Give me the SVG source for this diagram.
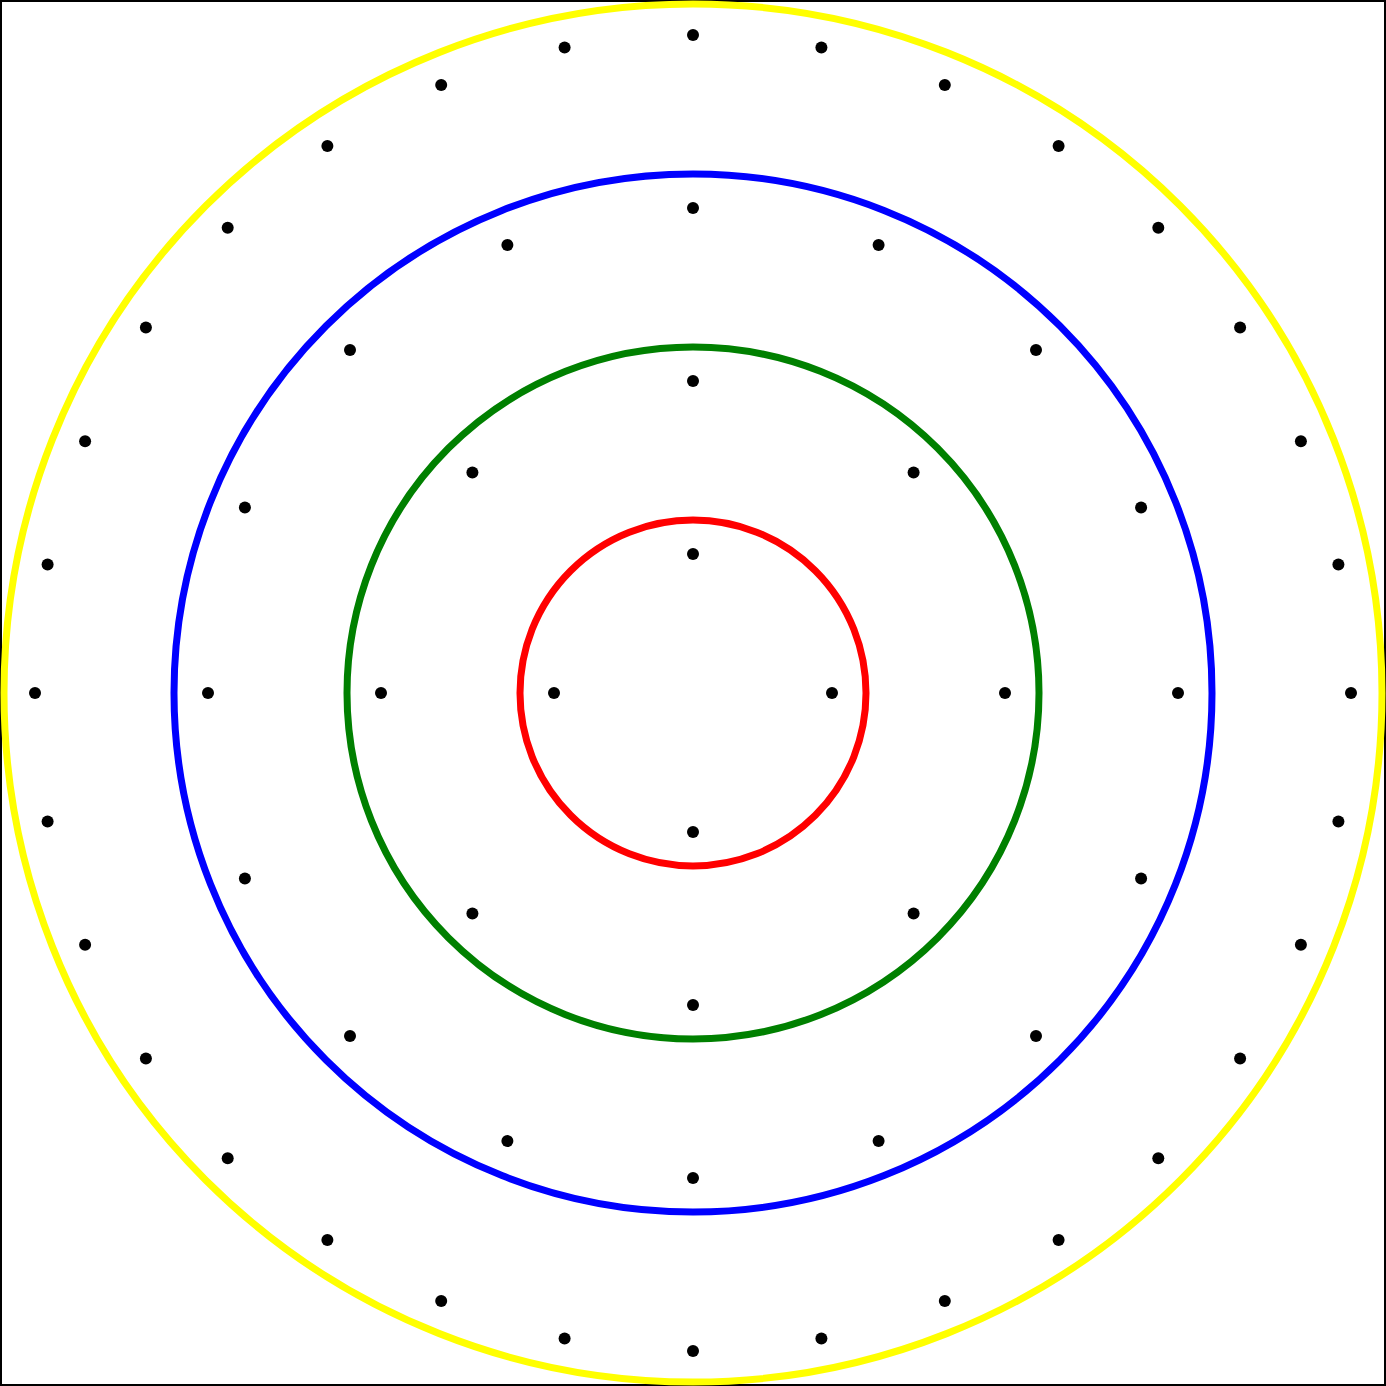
<svg xmlns="http://www.w3.org/2000/svg" width="1386" height="1386" viewBox="0 0 1386 1386">
<style>
.ring{fill:none;stroke-width:7}
.dot{fill:#000}
</style>
<defs><circle id="d" r="6" class="dot"/></defs>
<rect x="1" y="1" width="1384" height="1384" fill="#fff" stroke="#000" stroke-width="2"/>
<g id="rings">
<circle id="ring-yellow" cx="693" cy="693" r="689" class="ring" stroke="#ffff00"/>
<circle id="ring-blue" cx="693" cy="693" r="519" class="ring" stroke="#0000ff"/>
<circle id="ring-green" cx="693" cy="693" r="346" class="ring" stroke="#008000"/>
<circle id="ring-red" cx="693" cy="693" r="173" class="ring" stroke="#ff0000"/>
</g>
<g id="dots-red">
<use href="#d" x="693" y="554"/><use href="#d" x="832" y="693"/><use href="#d" x="693" y="832"/><use href="#d" x="554" y="693"/>
</g>
<g id="dots-green">
<use href="#d" x="693" y="381"/><use href="#d" x="913.6" y="472.4"/><use href="#d" x="1005" y="693"/><use href="#d" x="913.6" y="913.6"/>
<use href="#d" x="693" y="1005"/><use href="#d" x="472.4" y="913.6"/><use href="#d" x="381" y="693"/><use href="#d" x="472.4" y="472.4"/>
</g>
<g id="dots-blue">
<use href="#d" x="693" y="208"/><use href="#d" x="878.6" y="244.9"/><use href="#d" x="1036" y="350"/><use href="#d" x="1141.1" y="507.4"/>
<use href="#d" x="1178" y="693"/><use href="#d" x="1141.1" y="878.6"/><use href="#d" x="1036" y="1036"/><use href="#d" x="878.6" y="1141.1"/>
<use href="#d" x="693" y="1178"/><use href="#d" x="507.4" y="1141.1"/><use href="#d" x="350" y="1036"/><use href="#d" x="244.9" y="878.6"/>
<use href="#d" x="208" y="693"/><use href="#d" x="244.9" y="507.4"/><use href="#d" x="350" y="350"/><use href="#d" x="507.4" y="244.9"/>
</g>
<g id="dots-yellow">
<use href="#d" x="693" y="35"/><use href="#d" x="821.4" y="47.6"/><use href="#d" x="944.8" y="85.1"/><use href="#d" x="1058.6" y="145.9"/>
<use href="#d" x="1158.3" y="227.7"/><use href="#d" x="1240.1" y="327.4"/><use href="#d" x="1300.9" y="441.2"/><use href="#d" x="1338.4" y="564.6"/>
<use href="#d" x="1351" y="693"/><use href="#d" x="1338.4" y="821.4"/><use href="#d" x="1300.9" y="944.8"/><use href="#d" x="1240.1" y="1058.6"/>
<use href="#d" x="1158.3" y="1158.3"/><use href="#d" x="1058.6" y="1240.1"/><use href="#d" x="944.8" y="1300.9"/><use href="#d" x="821.4" y="1338.4"/>
<use href="#d" x="693" y="1351"/><use href="#d" x="564.6" y="1338.4"/><use href="#d" x="441.2" y="1300.9"/><use href="#d" x="327.4" y="1240.1"/>
<use href="#d" x="227.7" y="1158.3"/><use href="#d" x="145.9" y="1058.6"/><use href="#d" x="85.1" y="944.8"/><use href="#d" x="47.6" y="821.4"/>
<use href="#d" x="35" y="693"/><use href="#d" x="47.6" y="564.6"/><use href="#d" x="85.1" y="441.2"/><use href="#d" x="145.9" y="327.4"/>
<use href="#d" x="227.7" y="227.7"/><use href="#d" x="327.4" y="145.9"/><use href="#d" x="441.2" y="85.1"/><use href="#d" x="564.6" y="47.6"/>
</g>
</svg>
